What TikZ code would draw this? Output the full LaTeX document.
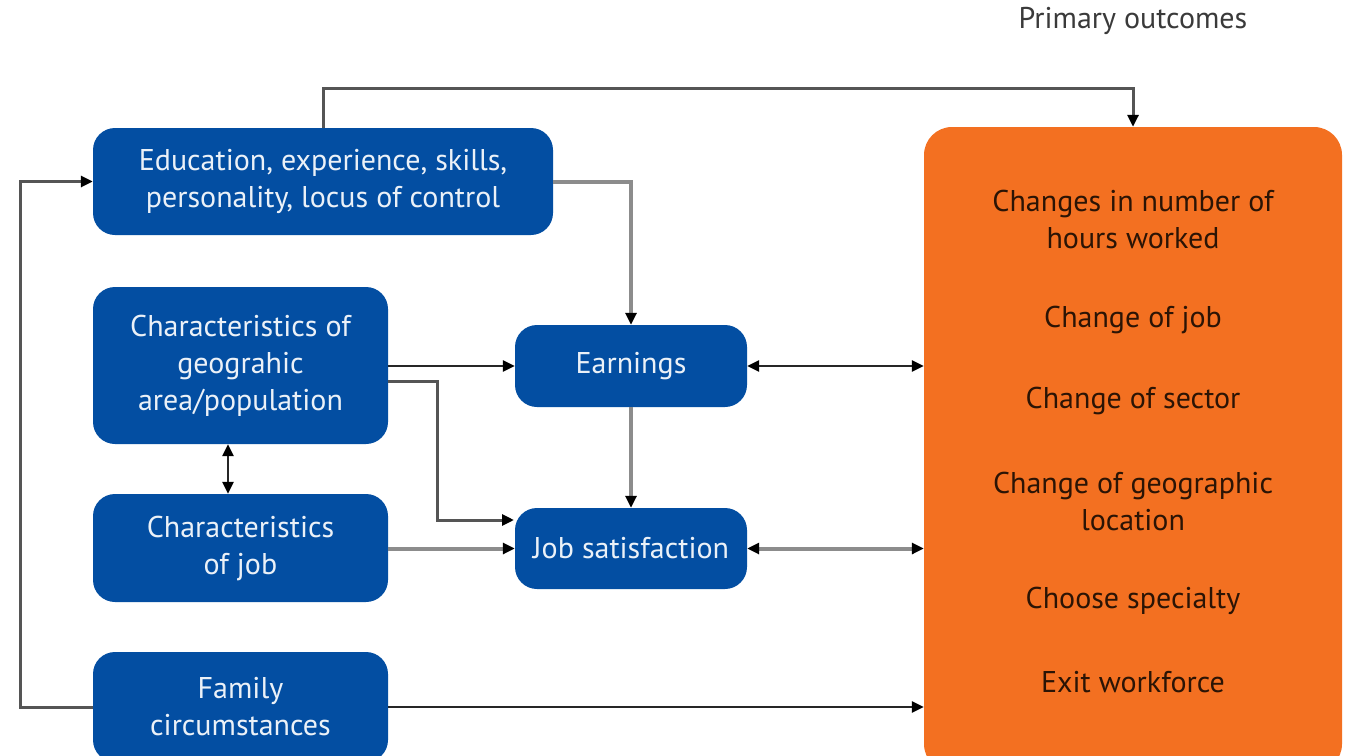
\documentclass[tikz,border=0pt]{standalone}
\usepackage{fontspec}
\setmainfont{PT Sans}
\usetikzlibrary{arrows.meta,calc}
\definecolor{boxblue}{HTML}{034EA2}
\definecolor{boxorange}{HTML}{F37021}
\definecolor{lgray}{HTML}{8C8C8C}
\definecolor{dgray}{HTML}{555555}
\definecolor{otext}{HTML}{2B1405}
\definecolor{ttext}{HTML}{3A3A3A}
\begin{document}
\begin{tikzpicture}[x=1pt,y=-1pt,
  txt/.style={font=\fontsize{30}{37}\selectfont, align=center, inner sep=0pt},
  bluebox/.style={txt, fill=boxblue, rounded corners=22pt, text=white!92!boxblue},
  orangebox/.style={fill=boxorange, rounded corners=28pt, inner sep=0pt},
  otxt/.style={txt, text=otext},
  tip/.style={-{Triangle[length=12pt,width=11pt,color=black]}},
  dtip/.style={{Triangle[length=12pt,width=11pt,color=black]}-{Triangle[length=12pt,width=11pt,color=black]}},
  blackline/.style={draw=black!85, line width=2.4pt},
  grayline/.style={draw=lgray, line width=4pt},
  darkline/.style={draw=dgray, line width=3pt},
]
\useasboundingbox (0,0) rectangle (1352,755);

% boxes
\node[bluebox, minimum width=460pt, minimum height=107pt] (edu) at (323,181.5)
  {Education, experience, skills,\\personality, locus of control};
\node[bluebox, minimum width=295pt, minimum height=157pt] (geo) at (240.5,365.5)
  {Characteristics of\\geograhic\\area/population};
\node[bluebox, minimum width=295pt, minimum height=108pt] (jobch) at (240.5,548)
  {Characteristics\\of job};
\node[bluebox, minimum width=295pt, minimum height=110pt] (fam) at (240.5,707)
  {Family\\circumstances};
\node[bluebox, minimum width=232pt, minimum height=82pt] (earn) at (631,366)
  {Earnings};
\node[bluebox, minimum width=232pt, minimum height=81pt] (jobsat) at (631,548.5)
  {Job satisfaction};
\node[orangebox, minimum width=418pt, minimum height=645pt] (out) at (1133,449.5) {};

\node[txt, text=ttext] (title) at (1133,21) {Primary outcomes};
\node[otxt] (o1) at (1133,219) {Changes in number of\\hours worked};
\node[otxt] (o2) at (1133,320) {Change of job};
\node[otxt] (o3) at (1133,401) {Change of sector};
\node[otxt] (o4) at (1133,501) {Change of geographic\\location};
\node[otxt] (o5) at (1133,601) {Choose specialty};
\node[otxt] (o6) at (1133,682) {Exit workforce};

% helper coordinates
\coordinate (topy) at (0,88);
\coordinate (leftx) at (20,0);
\coordinate (dx) at (228,0);
\coordinate (jx) at (437,0);
\coordinate (gA) at (388,381);
\coordinate (gB) at (514,520);

% connectors
\draw[darkline, tip] (edu.north) -- (edu.north |- topy) -| (out.north);
\draw[darkline, tip] (fam.west) -- (fam.west -| leftx) |- (edu.west);
\draw[grayline, tip] (edu.east) -| (earn.north);
\draw[blackline, tip] (earn.west -| geo.east) -- (earn.west);
\draw[darkline, tip] (gA) -- (gA -| jx) |- (gB);
\draw[blackline, dtip] (geo.south -| dx) -- (jobch.north -| dx);
\draw[grayline, tip] (jobch.east |- jobsat.west) -- (jobsat.west);
\draw[grayline, tip] (earn.south) -- (jobsat.north);
\draw[blackline, dtip] (earn.east) -- (out.west |- earn.east);
\draw[grayline, dtip] (jobsat.east) -- (out.west |- jobsat.east);
\draw[blackline, tip] (fam.east) -- (out.west |- fam.east);
\end{tikzpicture}
\end{document}
